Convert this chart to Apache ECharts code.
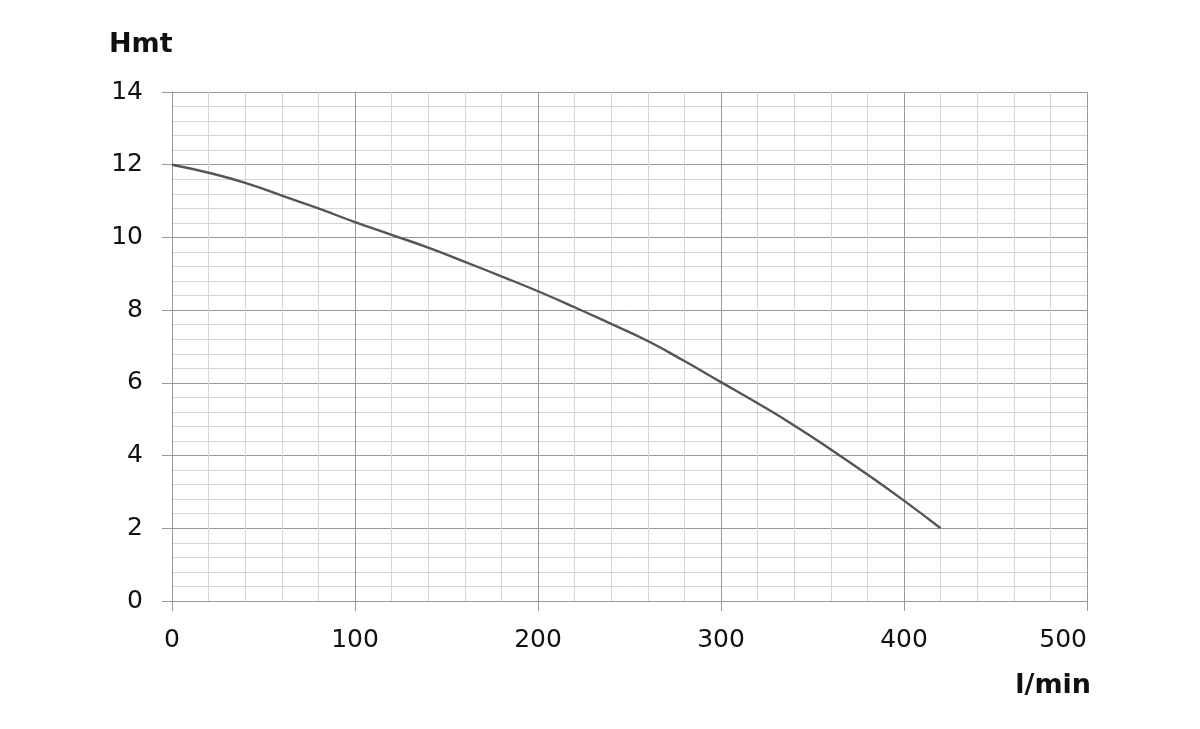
<!DOCTYPE html>
<html>
<head>
<meta charset="utf-8">
<style>
  html, body { margin: 0; padding: 0; background: #fff; }
  #chart { width: 1200px; height: 729px; }
</style>
<script src="https://cdn.jsdelivr.net/npm/echarts@6/dist/echarts.min.js"></script>
</head>
<body>
<div id="chart"></div>
<script>
// flow (l/min) and head (m)
const flow = [0, 20, 40, 60, 80, 100, 120, 140, 160, 180, 200, 220, 240, 260, 280, 300, 320, 340, 360, 380, 400, 420]
const head = [12, 11.78, 11.5, 11.15, 10.8, 10.42, 10.07, 9.72, 9.33, 8.93, 8.52, 8.08, 7.62, 7.15, 6.6, 6.02, 5.44, 4.83, 4.17, 3.48, 2.76, 2.0]

const fontFamily = '"DejaVu Sans", Verdana, sans-serif'

const chart = echarts.init(document.getElementById('chart'))

chart.setOption({
  animation: false,
  grid: {
    left: 172,
    right: 113,
    top: 92,
    bottom: 128
  },
  graphic: [
    {
      type: 'text',
      left: 109,
      top: 31,
      style: { text: 'Hmt', font: 'bold 27px ' + fontFamily, fill: '#111' }
    },
    {
      type: 'text',
      right: 109,
      top: 672,
      style: { text: 'l/min', font: 'bold 27px ' + fontFamily, fill: '#111' }
    }
  ],
  xAxis: {
    type: 'value',
    min: 0,
    max: 500,
    interval: 100,
    axisLine: { show: true, lineStyle: { color: '#999', width: 1 } },
    axisTick: { show: true, length: 10, lineStyle: { color: '#999' } },
    axisLabel: { color: '#111', fontSize: 25, fontFamily: fontFamily, margin: 27, alignMaxLabel: 'right' },
    splitLine: { show: true, lineStyle: { color: '#999', width: 1 } },
    minorTick: { show: false, splitNumber: 5 },
    minorSplitLine: { show: true, lineStyle: { color: '#d6d6d6', width: 1 } }
  },
  yAxis: {
    type: 'value',
    min: 0,
    max: 14,
    interval: 2,
    axisLine: { show: true, lineStyle: { color: '#999', width: 1 } },
    axisTick: { show: true, length: 10, lineStyle: { color: '#999' } },
    axisLabel: { color: '#111', fontSize: 25, fontFamily: fontFamily, margin: 29 },
    splitLine: { show: true, lineStyle: { color: '#999', width: 1 } },
    minorTick: { show: false, splitNumber: 5 },
    minorSplitLine: { show: true, lineStyle: { color: '#d6d6d6', width: 1 } }
  },
  series: [
    {
      type: 'line',
      data: flow.map((f, i) => [f, head[i]]),
      smooth: true,
      showSymbol: false,
      lineStyle: { color: '#555', width: 2.4 }
    }
  ]
})
</script>
</body>
</html>
